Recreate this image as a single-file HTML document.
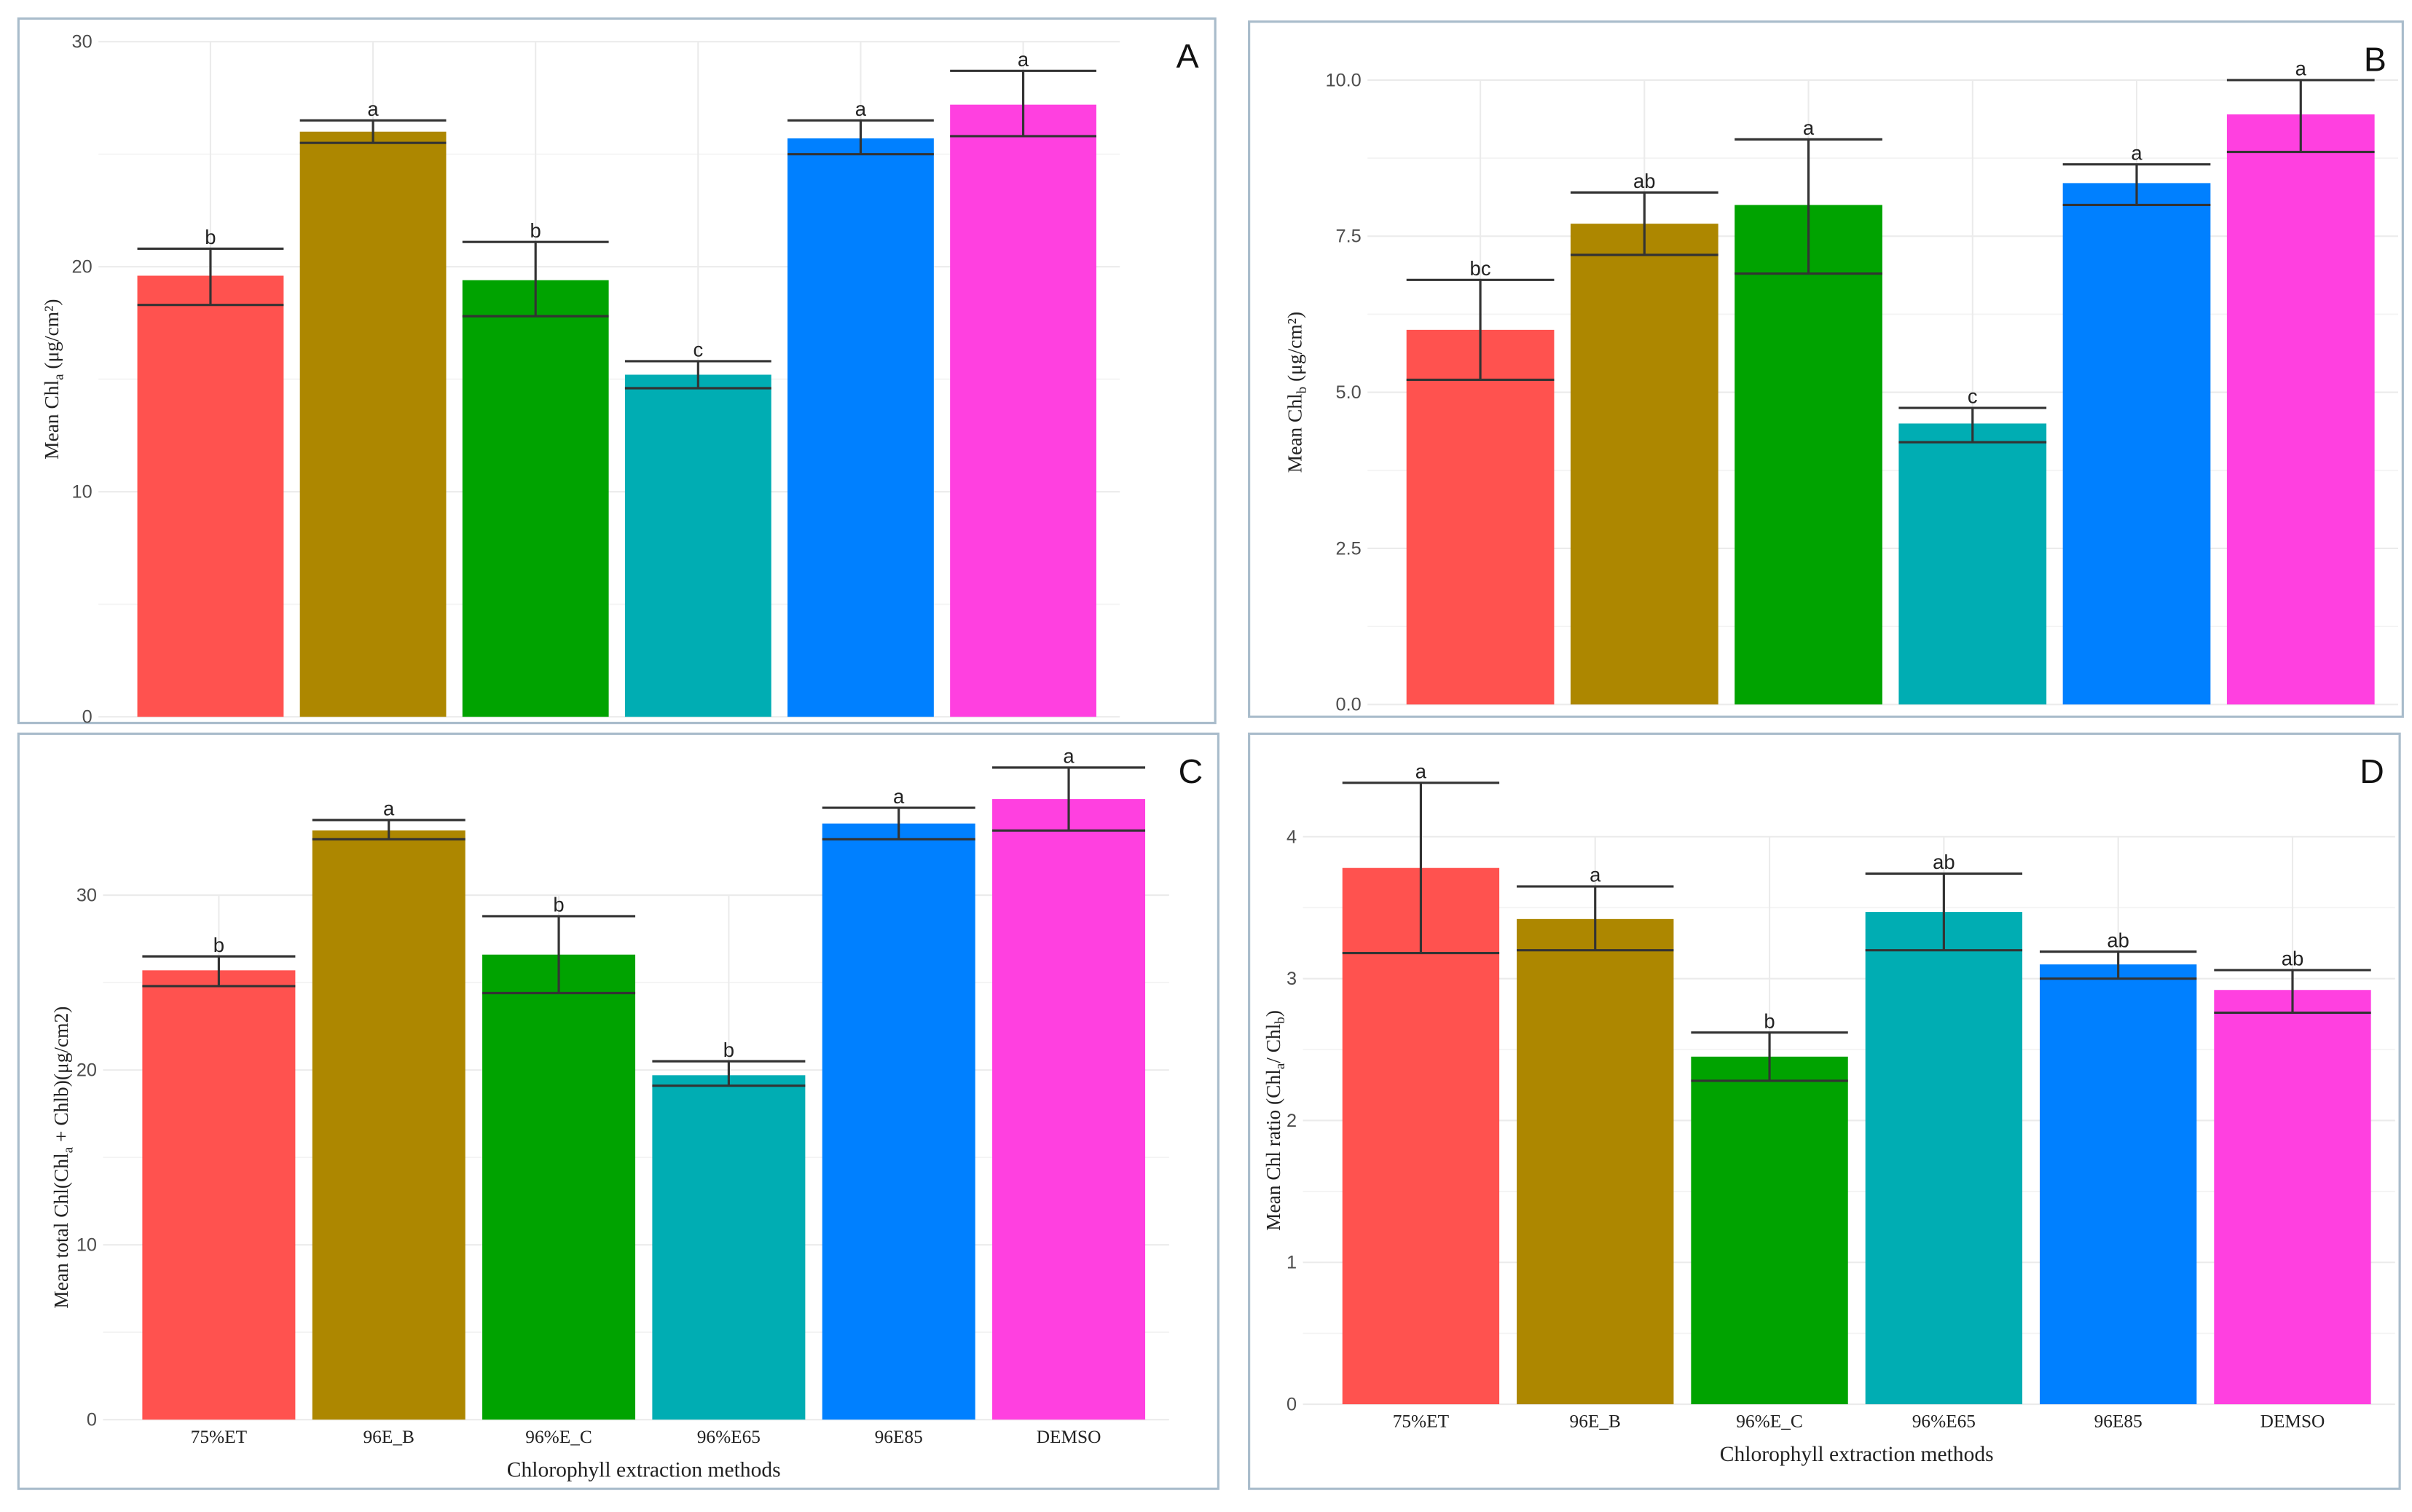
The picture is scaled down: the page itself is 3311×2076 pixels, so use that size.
<!DOCTYPE html>
<html><head><meta charset="utf-8">
<style>
html,body{margin:0;padding:0;background:#fff;}
svg{display:block;}
text{font-family:"Liberation Sans",sans-serif;}
.serif{font-family:"Liberation Serif",serif;}
</style></head>
<body>
<svg id="chart" xmlns="http://www.w3.org/2000/svg" width="3311" height="2076" viewBox="0 0 1568 983"></svg>
<script>
const categories = ["75%ET","96E_B","96%E_C","96%E65","96E85","DEMSO"];
const colors = ["#FF524F","#AD8700","#00A300","#00ADB3","#0080FF","#FF40E0"];
const valsA = [19.6,26.0,19.4,15.2,25.7,27.2];
const lowA  = [18.3,25.5,17.8,14.6,25.0,25.8];
const highA = [20.8,26.5,21.1,15.8,26.5,28.7];
const lettersA = ["b","a","b","c","a","a"];
const ticksA = [0,10,20,30];
const valsB = [6.0,7.7,8.0,4.5,8.35,9.45];
const lowB  = [5.2,7.2,6.9,4.2,8.0,8.85];
const highB = [6.8,8.2,9.05,4.75,8.65,10.0];
const lettersB = ["bc","ab","a","c","a","a"];
const ticksB = ["0.0","2.5","5.0","7.5","10.0"];
const valsC = [25.7,33.7,26.6,19.7,34.1,35.5];
const lowC  = [24.8,33.2,24.4,19.1,33.2,33.7];
const highC = [26.5,34.3,28.8,20.5,35.0,37.3];
const lettersC = ["b","a","b","b","a","a"];
const ticksC = [0,10,20,30];
const valsD = [3.78,3.42,2.45,3.47,3.1,2.92];
const lowD  = [3.18,3.2,2.28,3.2,3.0,2.76];
const highD = [4.38,3.65,2.62,3.74,3.19,3.06];
const lettersD = ["a","a","b","ab","ab","ab"];
const ticksD = [0,1,2,3,4];

const NS="http://www.w3.org/2000/svg";
const svg=document.getElementById('chart');
function mk(tag,attrs,parent){const e=document.createElementNS(NS,tag);for(const k in attrs)e.setAttribute(k,attrs[k]);(parent||svg).appendChild(e);return e;}

function panel(id,cfg,vals,low,high,letters,ticks){
  const g=mk('g',{});
  
  
  const fr=mk('rect',{x:cfg.fx,y:cfg.fy,width:cfg.fw,height:cfg.fh,fill:'#fff',stroke:'#a9bccb','stroke-width':1.5},g);
  
  
  const y=v=>cfg.y0-(v/cfg.ymax)*(cfg.y0-cfg.ytop);
  const n=categories.length, step=(cfg.x1-cfg.x0)/n, bw=step*0.9;
  const xc=i=>cfg.x0+step*(i+0.5);
  // grid
  const tv=ticks.map(Number);
  for(let k=0;k<tv.length;k++){
    const gl=mk('line',{x1:cfg.x0-20,x2:cfg.x1+10,y1:y(tv[k]),y2:y(tv[k]),stroke:'#ebebeb','stroke-width':1},g);
    
    
    if(k<tv.length-1){const m=(tv[k]+tv[k+1])/2;
      const gm=mk('line',{x1:cfg.x0-20,x2:cfg.x1+10,y1:y(m),y2:y(m),stroke:'#f3f3f3','stroke-width':0.8},g);
      
      }
    const t=mk('text',{x:cfg.x0-24,y:y(tv[k])+4,'text-anchor':'end','font-size':12,fill:'#4d4d4d'},g);
    t.textContent=ticks[k];
    
    
  }
  for(let i=0;i<n;i++){
    const vl=mk('line',{x1:xc(i),x2:xc(i),y1:cfg.ytop,y2:cfg.y0,stroke:'#ebebeb','stroke-width':1},g);
    
    
  }
  for(let i=0;i<n;i++){
    const b=mk('rect',{x:xc(i)-bw/2,y:y(vals[i]),width:bw,height:y(0)-y(vals[i]),fill:colors[i]},g);
    
    
    const e=mk('path',{d:`M${xc(i)-bw/2},${y(high[i])}H${xc(i)+bw/2}M${xc(i)-bw/2},${y(low[i])}H${xc(i)+bw/2}M${xc(i)},${y(high[i])}V${y(low[i])}`,stroke:'#333','stroke-width':1.5,fill:'none'},g);
    
    
    const l=mk('text',{x:xc(i),y:y(high[i])-3,'text-anchor':'middle','font-size':13,fill:'#222'},g);
    l.textContent=letters[i];
    
    
    if(cfg.xlabels){
      const xt=mk('text',{x:xc(i),y:cfg.y0+15,'text-anchor':'middle','font-size':12,fill:'#222',class:'serif'},g);
      xt.textContent=categories[i];
      
      
    }
  }
  if(cfg.xtitle){
    const xt=mk('text',{x:(cfg.x0+cfg.x1)/2,y:cfg.y0+37,'text-anchor':'middle','font-size':14,fill:'#222',class:'serif'},g);
    xt.textContent='Chlorophyll  extraction methods';
    
    
  }
  const yt=mk('text',{x:0,y:0,'text-anchor':'middle','font-size':13,fill:'#222',class:'serif',transform:`translate(${cfg.ytx},${(cfg.ytop+cfg.y0)/2}) rotate(-90)`},g);
  yt.innerHTML=cfg.ytitle;
  
  
  const pl=mk('text',{x:cfg.fx+cfg.fw-18,y:cfg.fy+32,'text-anchor':'middle','font-size':22,fill:'#111'},g);
  pl.textContent=id;
  
  
}
panel('A',{fx:12,fy:12,fw:778,fh:458,x0:84,x1:718,y0:466,ytop:27,ymax:30,ytx:38,
  ytitle:'Mean Chl<tspan font-size="9" dy="3">a</tspan><tspan dy="-3"> (μg/cm²)</tspan>'},valsA,lowA,highA,lettersA,ticksA);
panel('B',{fx:812,fy:14,fw:750,fh:452,x0:909,x1:1549,y0:458,ytop:52,ymax:10,ytx:846,
  ytitle:'Mean Chl<tspan font-size="9" dy="3">b</tspan><tspan dy="-3"> (μg/cm²)</tspan>'},valsB,lowB,highB,lettersB,ticksB);
panel('C',{fx:12,fy:477,fw:780,fh:491,x0:87,x1:750,y0:923,ytop:582,ymax:30,ytx:44,xlabels:true,xtitle:true,
  ytitle:'Mean total Chl(Chl<tspan font-size="9" dy="3">a</tspan><tspan dy="-3"> + Chlb)(μg/cm2)</tspan>'},valsC,lowC,highC,lettersC,ticksC);
panel('D',{fx:812,fy:477,fw:748,fh:491,x0:867,x1:1547,y0:913,ytop:544,ymax:4,ytx:832,xlabels:true,xtitle:true,
  ytitle:'Mean Chl ratio (Chl<tspan font-size="9" dy="3">a</tspan><tspan dy="-3">/ Chl</tspan><tspan font-size="9" dy="3">b</tspan><tspan dy="-3">)</tspan>'},valsD,lowD,highD,lettersD,ticksD);
</script>
</body></html>
